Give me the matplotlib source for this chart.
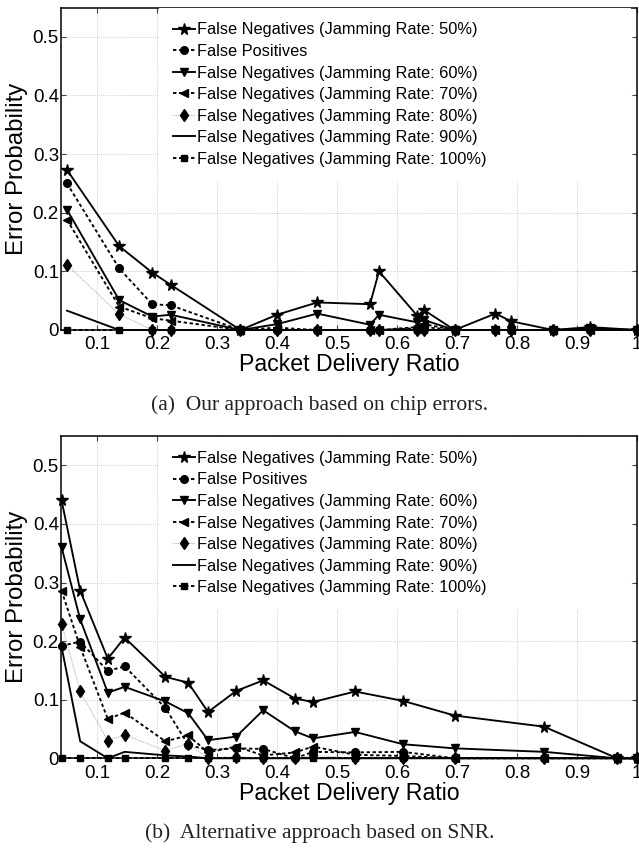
import matplotlib
matplotlib.use("Agg")
import matplotlib.pyplot as plt
import numpy as np

# ---------------- data ----------------
labels = [
    "False Negatives (Jamming Rate: 50%)",
    "False Positives",
    "False Negatives (Jamming Rate: 60%)",
    "False Negatives (Jamming Rate: 70%)",
    "False Negatives (Jamming Rate: 80%)",
    "False Negatives (Jamming Rate: 90%)",
    "False Negatives (Jamming Rate: 100%)",
]

# (a) chip errors
top_x = [0.050, 0.137, 0.192, 0.223, 0.339, 0.400, 0.467, 0.555, 0.570,
         0.634, 0.645, 0.696, 0.764, 0.790, 0.860, 0.921, 1.000]
top_fn50 = [0.273, 0.143, 0.098, 0.077, 0.000, 0.026, 0.047, 0.044, 0.100,
            0.024, 0.034, 0.000, 0.028, 0.015, 0.000, 0.005, 0.000]
top_fp = [0.250, 0.105, 0.044, 0.042, 0.000, 0.000, 0.000, 0.000, 0.000,
          0.003, 0.005, 0.000, 0.000, 0.000, 0.000, 0.000, 0.000]
top_fn60 = [0.205, 0.051, 0.023, 0.026, 0.000, 0.010, 0.028, 0.009, 0.026,
            0.013, 0.017, 0.000, 0.000, 0.000, 0.000, 0.003, 0.000]
top_fn70 = [0.188, 0.040, 0.020, 0.016, 0.000, 0.004, 0.000, 0.000, 0.000,
            0.005, 0.010, 0.000, 0.000, 0.000, 0.000, 0.000, 0.000]
top_fn80 = [0.111, 0.027, 0.000, 0.000, 0.000, 0.000, 0.000, 0.000, 0.000,
            0.000, 0.000, 0.000, 0.000, 0.000, 0.000, 0.000, 0.000]
top_fn90 = [0.033, 0.000, 0.000, 0.000, 0.000, 0.000, 0.000, 0.000, 0.000,
            0.000, 0.000, 0.000, 0.000, 0.000, 0.000, 0.000, 0.000]
top_fn100 = [0.000, 0.000, 0.000, 0.000, 0.000, 0.000, 0.000, 0.000, 0.000,
             0.000, 0.000, 0.000, 0.000, 0.000, 0.000, 0.000, 0.000]

# (b) SNR
bot_x = [0.041, 0.072, 0.118, 0.146, 0.214, 0.252, 0.285, 0.332, 0.377,
         0.430, 0.460, 0.530, 0.610, 0.696, 0.845, 0.967, 1.000]
bot_fn50 = [0.440, 0.286, 0.170, 0.206, 0.139, 0.129, 0.079, 0.115, 0.133,
            0.102, 0.096, 0.114, 0.098, 0.073, 0.054, 0.000, 0.000]
bot_fp = [0.192, 0.199, 0.149, 0.157, 0.086, 0.023, 0.014, 0.017, 0.016,
          0.000, 0.011, 0.010, 0.011, 0.000, 0.000, 0.000, 0.000]
bot_fn60 = [0.360, 0.237, 0.112, 0.122, 0.097, 0.077, 0.031, 0.037, 0.082,
            0.046, 0.034, 0.045, 0.024, 0.017, 0.011, 0.000, 0.000]
bot_fn70 = [0.286, 0.190, 0.067, 0.078, 0.029, 0.039, 0.010, 0.020, 0.005,
            0.010, 0.020, 0.006, 0.004, 0.000, 0.000, 0.000, 0.000]
bot_fn80 = [0.230, 0.114, 0.030, 0.040, 0.013, 0.025, 0.000, 0.003, 0.000,
            0.000, 0.005, 0.000, 0.000, 0.000, 0.000, 0.000, 0.000]
bot_fn90 = [0.190, 0.029, 0.000, 0.011, 0.005, 0.003, 0.000, 0.000, 0.000,
            0.000, 0.000, 0.000, 0.000, 0.000, 0.000, 0.000, 0.000]
bot_fn100 = [0.000, 0.000, 0.000, 0.000, 0.000, 0.000, 0.000, 0.000, 0.000,
             0.000, 0.000, 0.000, 0.000, 0.000, 0.000, 0.000, 0.000]

x_ticks = [0.1, 0.2, 0.3, 0.4, 0.5, 0.6, 0.7, 0.8, 0.9, 1.0]
x_ticklabels = ["0.1", "0.2", "0.3", "0.4", "0.5", "0.6", "0.7", "0.8", "0.9", "1"]
y_ticks = [0, 0.1, 0.2, 0.3, 0.4, 0.5]
y_ticklabels = ["0", "0.1", "0.2", "0.3", "0.4", "0.5"]

captions = ["(a)  Our approach based on chip errors.",
            "(b)  Alternative approach based on SNR."]

# ---------------- styles ----------------
SANS = "Liberation Sans"
SERIF = "Liberation Serif"
dotted = (0, (1.8, 1.4))
styles = [
    dict(color="black", ls="-", lw=1.35, marker="*", ms=8.5),
    dict(color="black", ls=dotted, lw=1.35, marker="o", ms=5.5),
    dict(color="black", ls="-", lw=1.35, marker="v", ms=6),
    dict(color="black", ls=dotted, lw=1.35, marker="<", ms=6),
    dict(color="#b0b0b0", ls=(0, (1, 1)), lw=0.8, marker="d", ms=6),
    dict(color="black", ls="-", lw=1.35, marker="None", ms=0),
    dict(color="black", ls=dotted, lw=1.35, marker="s", ms=4),
]

W, H = 639, 848
fig = plt.figure(figsize=(W / 100, H / 100), dpi=100)
ax1 = fig.add_axes([61 / W, (H - 330) / H, 576 / W, 322.5 / H])
ax2 = fig.add_axes([61 / W, (H - 758.3) / H, 576 / W, 322.3 / H])


def draw(ax, x, series, caption, cap_y):
    for ys, lab, st in zip(series, labels, styles):
        ax.plot(x, ys, color=st["color"], linestyle=st["ls"], linewidth=st["lw"],
                marker=st["marker"], markersize=st["ms"],
                markerfacecolor="black", markeredgecolor="black",
                label=lab, clip_on=False, zorder=3)
    ax.set_xlim(0.04, 1.0)
    ax.set_ylim(0, 0.55)
    ax.set_xticks(x_ticks)
    ax.set_xticklabels(x_ticklabels, fontfamily=SANS, fontsize=13.5)
    ax.set_yticks(y_ticks)
    ax.set_yticklabels(y_ticklabels, fontfamily=SANS, fontsize=13.5)
    ax.tick_params(direction="in", top=True, right=True, length=3.6, width=0.8,
                   color="#444444")
    ax.tick_params(axis="x", pad=4.5)
    ax.tick_params(axis="y", pad=1.5)
    ax.grid(True, linestyle=(0, (1, 1.5)), color="#c0c0c0", linewidth=0.6)
    for sp in ax.spines.values():
        sp.set_linewidth(1.1)
        sp.set_color("black")
    ax.set_xlabel("Packet Delivery Ratio", fontfamily=SANS, fontsize=16.7, labelpad=0)
    ax.set_ylabel("Error Probability", fontfamily=SANS, fontsize=17.3, labelpad=3)
    ax.legend(loc="upper left", bbox_to_anchor=(0.170, 0.5, 0.819, 0.497),
              mode="expand", frameon=True, fancybox=False,
              edgecolor="none", facecolor="white", framealpha=1,
              borderpad=0.85, labelspacing=0.40, handlelength=1.35,
              handletextpad=0.15, borderaxespad=0,
              prop={"family": SANS, "size": 11.8})
    fig.text(0.5, 1 - cap_y / H, caption, ha="center", va="center",
             fontfamily=SERIF, fontsize=15.5, color="#222222")


draw(ax1, top_x, [top_fn50, top_fp, top_fn60, top_fn70, top_fn80, top_fn90, top_fn100],
     captions[0], 405)
draw(ax2, bot_x, [bot_fn50, bot_fp, bot_fn60, bot_fn70, bot_fn80, bot_fn90, bot_fn100],
     captions[1], 833)

fig.savefig("out.png", dpi=100)
